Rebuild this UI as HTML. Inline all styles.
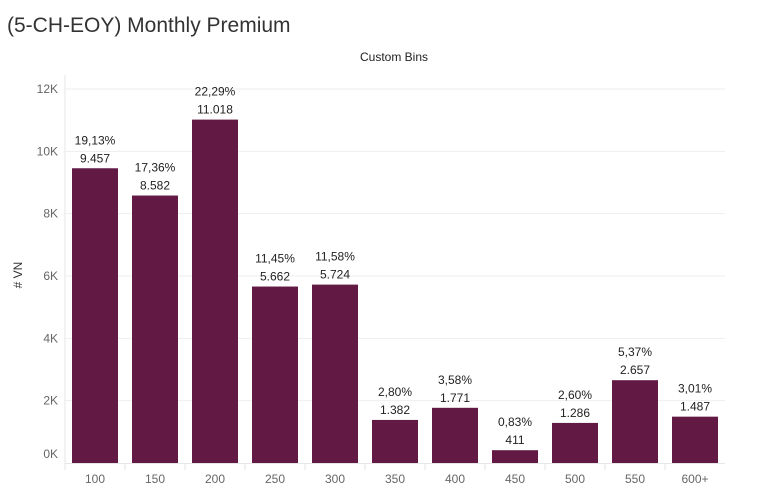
<!DOCTYPE html>
<html><head><meta charset="utf-8"><style>
body{margin:0;background:#fff;font-family:"Liberation Sans",sans-serif}
</style></head><body>
<svg id="c" width="757" height="488" xmlns="http://www.w3.org/2000/svg">
<text x="7" y="32" font-size="21" fill="#333">(5-CH-EOY) Monthly Premium</text>
<text x="394" y="61" font-size="12" fill="#222" text-anchor="middle">Custom Bins</text>
<text x="22" y="275" font-size="12" fill="#333" text-anchor="middle" transform="rotate(-90 22 275)"># VN</text>
<g id="g"></g>
</svg>
<script>
const categories=["100","150","200","250","300","350","400","450","500","550","600+"];
const values=[9457,8582,11018,5662,5724,1382,1771,411,1286,2657,1487];
const pctLabels=["19,13%","17,36%","22,29%","11,45%","11,58%","2,80%","3,58%","0,83%","2,60%","5,37%","3,01%"];
const valLabels=["9.457","8.582","11.018","5.662","5.724","1.382","1.771","411","1.286","2.657","1.487"];
const yTicks=[0,2000,4000,6000,8000,10000,12000];
const yTickLabels=["0K","2K","4K","6K","8K","10K","12K"];
const NS="http://www.w3.org/2000/svg",g=document.getElementById('g');
const x0=65,band=60,bw=46,y0=463,yTop=89,yMax=12000;
const y=v=>y0-(v/yMax)*(y0-yTop);
const xc=i=>x0+band*i+band/2;
function mk(t,a,txt){const e=document.createElementNS(NS,t);for(const k in a)e.setAttribute(k,a[k]);if(txt!=null)e.textContent=txt;g.appendChild(e);return e;}
yTicks.forEach((t,i)=>{
 if(t>0){const l=mk('line',{x1:x0,x2:725,y1:y(t),y2:y(t),stroke:'#eeeeee'});
 
 }
 const tx=mk('text',{x:58,y:(t===0?y(t)-5:y(t)+4),'font-size':12,fill:'#666','text-anchor':'end'},yTickLabels[i]);
 
 
});
const ax=mk('line',{x1:x0,x2:x0,y1:75,y2:470,stroke:'#e6e6e6'});


const bx=mk('line',{x1:x0,x2:725,y1:y0+0.5,y2:y0+0.5,stroke:'#e6e6e6'});


categories.forEach((c,i)=>{
 const top=y(values[i]);
 const r=mk('rect',{x:xc(i)-bw/2,y:top,width:bw,height:y0-top,fill:'#621a44'});
 
 
 const p=mk('text',{x:xc(i),y:top-24,'font-size':12,fill:'#222','text-anchor':'middle'},pctLabels[i]);
 
 
 const v=mk('text',{x:xc(i),y:top-6,'font-size':12,fill:'#222','text-anchor':'middle'},valLabels[i]);
 
 
 const xl=mk('text',{x:xc(i),y:483,'font-size':12,fill:'#666','text-anchor':'middle'},c);
 
 
 if(i>0){const tk=mk('line',{x1:x0+band*i,x2:x0+band*i,y1:y0,y2:470,stroke:'#e6e6e6'});
 
 }
});
</script>
</body></html>
